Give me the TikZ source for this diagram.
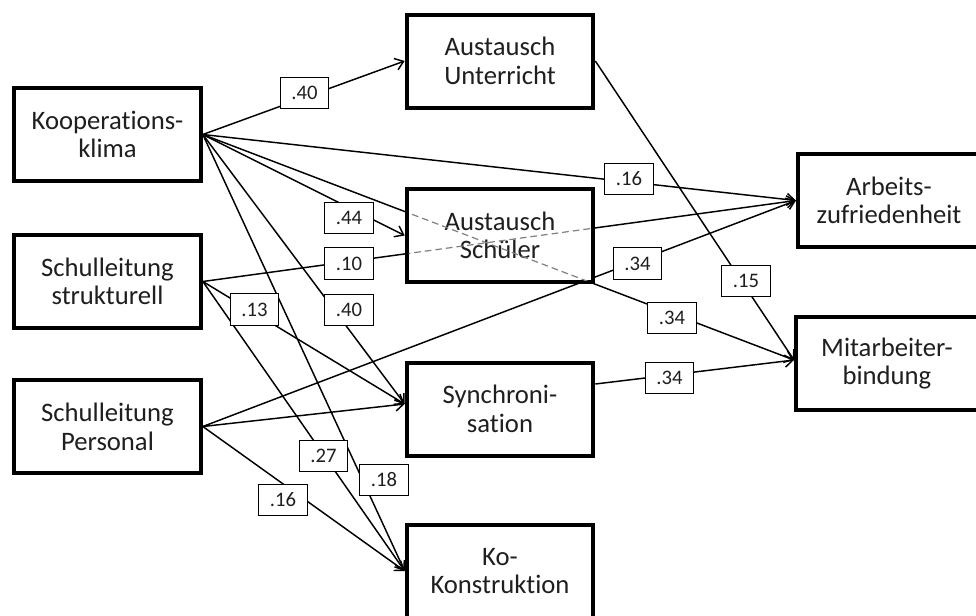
\documentclass[tikz,border=0pt]{standalone}
\usepackage{fontspec}
\setmainfont[Ligatures=NoCommon]{Carlito}
\usetikzlibrary{arrows.meta,backgrounds}
\begin{document}
\begin{tikzpicture}[x=0.75pt,y=-0.75pt,
  box/.style={draw, line width=3pt, fill=white, minimum width=140pt, minimum height=69.75pt,
    inner sep=0pt, align=center, text=black!88, font=\fontsize{20}{21.5}\selectfont},
  rbox/.style={box, minimum width=136.5pt},
  lab/.style={draw, line width=0.9pt, fill=white, minimum width=36.5pt, minimum height=23.5pt,
    inner sep=0pt, text=black!88, font=\fontsize{15.5}{17}\selectfont},
  edge/.style={line width=1.1pt, -{Straight Barb[length=6pt,width=9pt]}},
  hid/.style={line width=0.9pt, dash pattern=on 5pt off 3pt, draw=black!50}
]
\useasboundingbox (0,0) rectangle (976,615);
% main boxes
\node[box] (koop) at (107.5,134.5) {Kooperations-\\klima};
\node[box] (strukt) at (107.5,281.5) {Schulleitung\\strukturell};
\node[box] (pers) at (107.5,426.5) {Schulleitung\\Personal};
\node[box] (unter) at (500,61) {Austausch\\Unterricht};
\node[box] (schueler) at (500,235.5) {Austausch\\Schüler};
\node[box] (sync) at (500,409) {Synchroni-\\sation};
\node[box] (ko) at (500,571) {Ko-\\Konstruktion};
\node[rbox] (arbeit) at (889,200.5) {Arbeits-\\zufriedenheit};
\node[rbox] (mitarb) at (887,363.5) {Mitarbeiter-\\bindung};
% connector end points
\coordinate (mt) at ([yshift=2.6pt]mitarb.west);
\coordinate (st) at ([yshift=3.75pt]sync.west);
\coordinate (ss) at ([yshift=18.75pt]sync.east);
% connectors
\begin{scope}[on background layer]
\draw[edge] (koop.east) -- (unter.west);
\draw[edge] (koop.east) -- (arbeit.west);
\draw[edge] (koop.east) -- (schueler.west);
\draw[edge] (koop.east) -- (mt);
\draw[edge] (koop.east) -- (st);
\draw[edge] (koop.east) -- (ko.west);
\draw[edge] (strukt.east) -- (arbeit.west);
\draw[edge] (strukt.east) -- (st);
\draw[edge] (strukt.east) -- (ko.west);
\draw[edge] (pers.east) -- (arbeit.west);
\draw[edge] (pers.east) -- (st);
\draw[edge] (pers.east) -- (ko.west);
\draw[edge] (unter.east) -- (mt);
\draw[edge] (ss) -- (mt);
\end{scope}
% paths seen through the box
\begin{scope}
\clip ([shift={(4,4)}]schueler.north west) rectangle ([shift={(-4,-4)}]schueler.south east);
\draw[hid] (koop.east) -- (mt);
\draw[hid] (strukt.east) -- (arbeit.west);
\end{scope}
% coefficient labels
\node[lab] (l40a) at (304.5,93) {.40};
\node[lab] (l16a) at (629,179) {.16};
\node[lab] (l44) at (349,218) {.44};
\node[lab] (l10) at (349,263.5) {.10};
\node[lab] (l34a) at (637.5,263.5) {.34};
\node[lab] (l34b) at (672,318) {.34};
\node[lab] (l15) at (746,281) {.15};
\node[lab] (l13) at (254.5,309.5) {.13};
\node[lab] (l40b) at (349,310) {.40};
\node[lab] (l34c) at (669.5,378) {.34};
\node[lab] (l27) at (323.5,456) {.27};
\node[lab] (l18) at (384,480) {.18};
\node[lab] (l16b) at (283,500) {.16};
\end{tikzpicture}
\end{document}
